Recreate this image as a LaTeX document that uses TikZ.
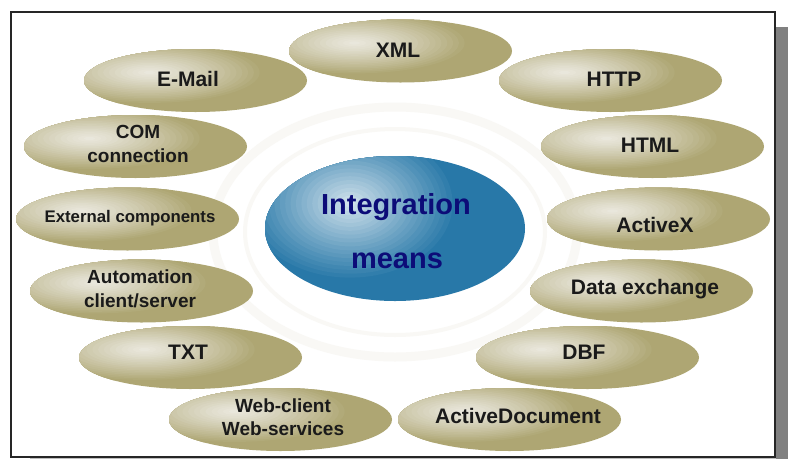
\documentclass[tikz,border=0pt]{standalone}
\usepackage{fontspec}
\setmainfont{Liberation Sans}
\usetikzlibrary{shapes.geometric}
\definecolor{oliveA}{HTML}{EAE8DE}
\definecolor{oliveE}{HTML}{AEA673}
\definecolor{blueA}{HTML}{DCE9F0}
\definecolor{blueE}{HTML}{2878A8}
\definecolor{navytext}{HTML}{0C0C78}
\definecolor{ringc}{HTML}{F9F8F5}
\definecolor{textc}{HTML}{1A1A1A}
\tikzset{
  pill/.style={ellipse,minimum width=223pt,minimum height=63pt,inner sep=0pt,fill=oliveE,
    path picture={\foreach \i in {20,...,1}{
      \pgfmathsetmacro{\mixv}{int(100*(\i/20)^1.2)}
      \fill[oliveE!\mixv!oliveA] (path picture bounding box.center) ++(-46,-8) ellipse ({116*\i/20} and {32*\i/20});}}},
  hub/.style={ellipse,minimum width=260pt,minimum height=145pt,inner sep=0pt,fill=blueE,
    path picture={\foreach \i in {20,...,1}{
      \pgfmathsetmacro{\mixv}{int(100*(\i/20)^0.9)}
      \fill[blueE!\mixv!blueA] (path picture bounding box.center) ++(-45,-25) ellipse ({108*\i/20} and {78*\i/20});}}},
  lab/.style={inner sep=0pt,align=center,text=textc},
  hublab/.style={inner sep=0pt,text=navytext,font=\fontsize{29}{30}\selectfont\bfseries},
  big/.style={font=\fontsize{21}{24}\selectfont\bfseries},
  mid/.style={font=\fontsize{19}{23.5}\selectfont\bfseries},
  small/.style={font=\fontsize{16.8}{20}\selectfont\bfseries},
  ring/.style={draw=ringc}
}
\begin{document}
\begin{tikzpicture}[x=1pt,y=-1pt]
\useasboundingbox (0,0) rectangle (788,459);
% shadow
\fill[black!50] (776,27) rectangle (788,459);
\fill[black!25] (30,458) rectangle (776,459);
% frame
\draw[line width=2.4pt,draw=black!85,fill=white] (11.2,12.2) rectangle (775,457);
% rings
\draw[ring,line width=9pt] (395,232) ellipse (182 and 125);
\draw[ring,line width=4pt] (395,232) ellipse (150 and 103);
% hub
\node[hub] (hub) at (395,228.5) {};
\node[hublab] (hubA) at (396,207) {Integration};
\node[hublab] (hubB) at (397,261) {means};
% pills
\node[pill] (xml) at (400.5,51) {};
\node[pill] (mail) at (195.5,80.5) {};
\node[pill] (http) at (610.5,80.5) {};
\node[pill] (com) at (135.5,146.5) {};
\node[pill] (html) at (652.5,146.5) {};
\node[pill] (ext) at (127.5,219) {};
\node[pill] (actx) at (658.5,219) {};
\node[pill] (auto) at (141.5,291) {};
\node[pill] (data) at (641.5,291) {};
\node[pill] (txt) at (190.5,357.5) {};
\node[pill] (dbf) at (587.5,357.5) {};
\node[pill] (web) at (280.5,419.5) {};
\node[pill] (adoc) at (509.5,419.5) {};
% labels
\node[lab,big] (xmlT) at (398,50) {XML};
\node[lab,big] (mailT) at (188,79) {E-Mail};
\node[lab,big] (httpT) at (614,79) {HTTP};
\node[lab,mid] (comT) at (138,144) {COM\\connection};
\node[lab,big] (htmlT) at (650,145) {HTML};
\node[lab,small] (extT) at (130,218) {External components};
\node[lab,big] (actxT) at (655,225) {ActiveX};
\node[lab,mid] (autoT) at (140,289) {Automation\\client/server};
\node[lab,big] (dataT) at (645,289) {Data exchange};
\node[lab,big] (txtT) at (188,352) {TXT};
\node[lab,big] (dbfT) at (584,352) {DBF};
\node[lab,mid] (webT) at (283,417) {Web-client\\Web-services};
\node[lab,big] (adocT) at (518,416) {ActiveDocument};
\end{tikzpicture}
\end{document}
